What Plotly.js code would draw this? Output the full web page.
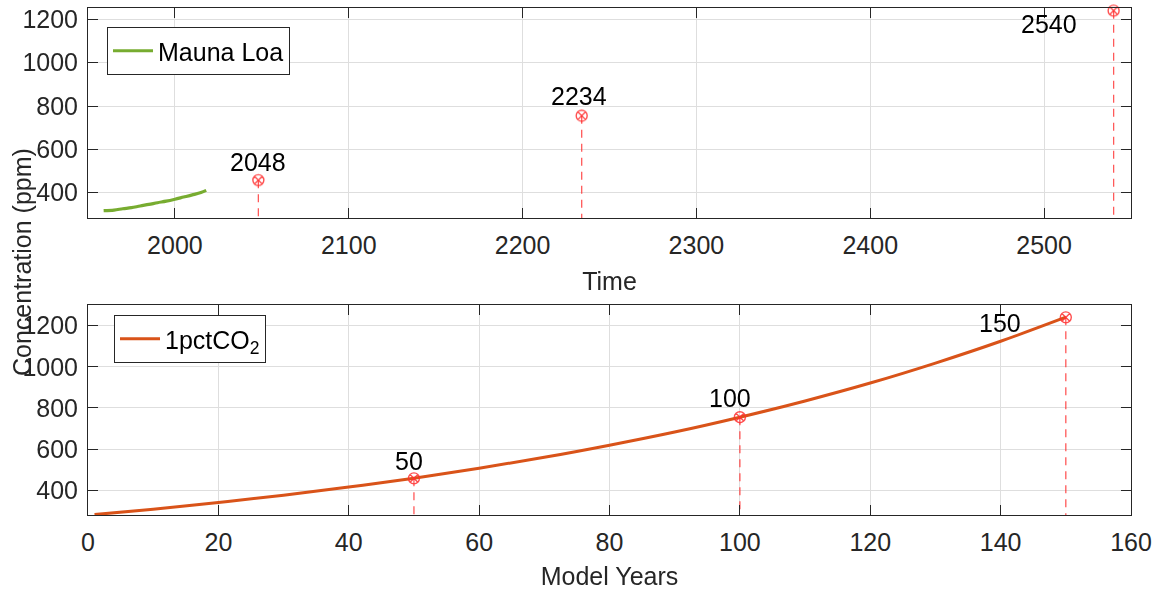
<!DOCTYPE html>
<html>
<head>
<meta charset="utf-8">
<script src="https://cdn.plot.ly/plotly-3.0.1.min.js"></script>
<style>html,body{margin:0;padding:0;background:#fff;}#chart{width:1155px;height:590px;}</style>
</head>
<body>
<div id="chart"></div>
<script>
// ---- Data ----
const maunaLoaYears = [1959, 1965, 1970, 1975, 1980, 1985, 1990, 1995, 2000, 2005, 2010, 2015, 2018];
const maunaLoaCO2   = [317, 320, 326, 331, 339, 346, 354, 361, 370, 380, 390, 401, 411];

const modelYears = [1, 10, 20, 30, 40, 50, 60, 70, 80, 90, 100, 110, 120, 130, 140, 150];
const pctCO2     = [282, 308, 341, 376, 416, 459, 507, 560, 619, 683, 755, 834, 921, 1018, 1124, 1241];

const markModelYears = [50, 100, 150];
const markCalYears   = [2048, 2234, 2540];
const markValues     = [458, 755, 1240];
const markCalLabels  = ['2048', '2234', '2540'];
const markModelLabels = ['50', '100', '150'];

// ---- Styling ----
const FONT = 'Liberation Sans, Arial, Helvetica, sans-serif';
const AXC = '#262626';
const GRID = '#dedede';
const RED = '#ff3030';
const topRangeY = [282, 1251];
const botRangeY = [280, 1300];

const traces = [];
traces.push({
  x: maunaLoaYears, y: maunaLoaCO2, type: 'scatter', mode: 'lines', name: 'Mauna Loa',
  line: {color: '#77AC30', width: 3.2, shape: 'spline'}, xaxis: 'x', yaxis: 'y', legend: 'legend'
});
traces.push({
  x: modelYears, y: pctCO2, type: 'scatter', mode: 'lines', name: '1pctCO<sub>2</sub>',
  line: {color: '#D95319', width: 3, shape: 'spline'}, xaxis: 'x2', yaxis: 'y2', legend: 'legend2'
});
for (let i = 0; i < markValues.length; i++) {
  traces.push({x: [markCalYears[i], markCalYears[i]], y: [markValues[i], topRangeY[0]], type: 'scatter', mode: 'lines',
    line: {color: RED, width: 1.3, dash: '8px,6px'}, opacity: 0.8, showlegend: false, hoverinfo: 'skip', xaxis: 'x', yaxis: 'y'});
  traces.push({x: [markModelYears[i], markModelYears[i]], y: [markValues[i], botRangeY[0]], type: 'scatter', mode: 'lines',
    line: {color: RED, width: 1.3, dash: '8px,6px'}, opacity: 0.8, showlegend: false, hoverinfo: 'skip', xaxis: 'x2', yaxis: 'y2'});
}
traces.push({x: markCalYears, y: markValues, type: 'scatter', mode: 'markers', showlegend: false,
  marker: {symbol: 'circle-x-open', size: 11, color: RED, line: {width: 1.4, color: RED}}, opacity: 0.85, xaxis: 'x', yaxis: 'y', cliponaxis: false});
traces.push({x: markModelYears, y: markValues, type: 'scatter', mode: 'markers', showlegend: false,
  marker: {symbol: 'circle-x-open', size: 11, color: RED, line: {width: 1.4, color: RED}}, opacity: 0.85, xaxis: 'x2', yaxis: 'y2', cliponaxis: false});

// label offsets (pixels) relative to the markers
const calOffsets = [[0, 18, 'center'], [-3, 20, 'center'], [-35, -13, 'right']];
const modelOffsets = [[-5, 17, 'center'], [-10, 19, 'center'], [-43, -6, 'right']];

const annotations = [];
for (let i = 0; i < markValues.length; i++) {
  annotations.push({x: markCalYears[i], y: markValues[i], xref: 'x', yref: 'y', text: markCalLabels[i], showarrow: false,
    xanchor: calOffsets[i][2], yanchor: 'middle', xshift: calOffsets[i][0], yshift: calOffsets[i][1],
    font: {family: FONT, size: 25, color: '#000'}});
  annotations.push({x: markModelYears[i], y: markValues[i], xref: 'x2', yref: 'y2', text: markModelLabels[i], showarrow: false,
    xanchor: modelOffsets[i][2], yanchor: 'middle', xshift: modelOffsets[i][0], yshift: modelOffsets[i][1],
    font: {family: FONT, size: 25, color: '#000'}});
}
annotations.push({x: 22 / 1155, y: 1 - 262 / 590, xref: 'paper', yref: 'paper', text: 'Concentration (ppm)', textangle: -90,
  showarrow: false, xanchor: 'center', yanchor: 'middle', font: {family: FONT, size: 25, color: AXC}});

function axisBase() {
  return {
    showline: true, linecolor: AXC, linewidth: 1, mirror: 'allticks',
    ticks: 'inside', ticklen: 10, tickwidth: 1, tickcolor: AXC,
    showgrid: true, gridcolor: GRID, gridwidth: 1, zeroline: false,
    tickfont: {family: FONT, size: 25, color: AXC}, fixedrange: true
  };
}

const layout = {
  width: 1155, height: 590, margin: {l: 0, r: 0, t: 0, b: 0},
  paper_bgcolor: '#fff', plot_bgcolor: '#fff',
  font: {family: FONT, color: AXC},
  xaxis: Object.assign(axisBase(), {domain: [88 / 1155, 1131 / 1155], anchor: 'y', range: [1950, 2550], dtick: 100, tick0: 2000,
    ticklabelstandoff: 5,
    title: {text: 'Time', font: {family: FONT, size: 25, color: AXC}, standoff: 14}}),
  yaxis: Object.assign(axisBase(), {domain: [1 - 218.3 / 590, 1 - 8.3 / 590], anchor: 'x', range: topRangeY, dtick: 200, tick0: 0,
    ticklabelstandoff: 4}),
  xaxis2: Object.assign(axisBase(), {domain: [88 / 1155, 1131 / 1155], anchor: 'y2', range: [0, 160], dtick: 20,
    ticklabelstandoff: 5,
    title: {text: 'Model Years', font: {family: FONT, size: 25, color: AXC}, standoff: 14}}),
  yaxis2: Object.assign(axisBase(), {domain: [1 - 515 / 590, 1 - 305 / 590], anchor: 'x2', range: botRangeY, dtick: 200, tick0: 0,
    ticklabelstandoff: 4}),
  legend: {x: 107 / 1155, y: 1 - 27 / 590, xanchor: 'left', yanchor: 'top', bgcolor: '#fff', bordercolor: AXC, borderwidth: 1,
    font: {family: FONT, size: 25, color: '#000'}, itemwidth: 40},
  legend2: {x: 114 / 1155, y: 1 - 315 / 590, xanchor: 'left', yanchor: 'top', bgcolor: '#fff', bordercolor: AXC, borderwidth: 1,
    font: {family: FONT, size: 25, color: '#000'}, itemwidth: 40},
  annotations: annotations,
  showlegend: true
};

Plotly.newPlot('chart', traces, layout, {staticPlot: true, displayModeBar: false});
</script>
</body>
</html>
